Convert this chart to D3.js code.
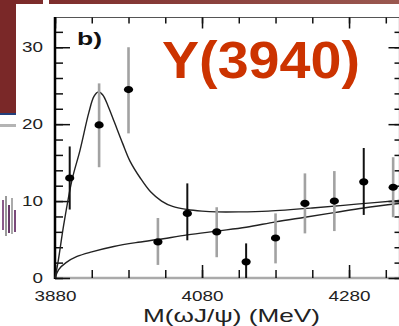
<!DOCTYPE html>
<html>
<head>
<meta charset="utf-8">
<script src="https://d3js.org/d3.v7.min.js"></script>
<style>
 body { margin: 0; background: #fff; }
 svg { display: block; }
</style>
</head>
<body>
<svg width="399" height="326"></svg>
<script>
 // data
 var mass    = [3900, 3940, 3980, 4020, 4060, 4100, 4140, 4180, 4220, 4260, 4300, 4340];
 var events  = [13.0, 19.9, 24.5, 4.7, 8.4, 6.0, 2.1, 5.2, 9.7, 10.0, 12.5, 11.8];
 var errHigh = [17.1, 25.3, 30.0, 7.8, 12.3, 9.2, 4.5, 8.4, 13.6, 13.9, 16.9, 15.7];
 var errLow  = [8.9, 14.4, 18.8, 1.7, 4.9, 2.7, 0.0, 1.9, 5.8, 6.1, 8.2, 7.9];
 var darkBar = [true, false, false, false, true, false, true, false, false, false, true, false];

 // fit curve (signal + background)
 var fitMass  = [3880, 3884, 3892, 3903, 3914, 3926, 3933, 3939, 3945, 3952, 3961, 3972, 3982, 3996, 4010, 4025, 4040, 4060, 4080, 4100, 4130, 4170, 4230, 4290, 4350];
 var fitTotal = [0, 2.0, 7.0, 12.7, 16.6, 21.5, 23.6, 24.2, 23.8, 22.4, 20.2, 17.5, 15.2, 13.0, 11.2, 10.0, 9.3, 8.9, 8.7, 8.6, 8.6, 8.7, 9.1, 9.6, 10.1];
 // background curve
 var bgMass  = [3880, 3885, 3895, 3910, 3930, 3960, 3990, 4020, 4060, 4100, 4140, 4180, 4220, 4260, 4300, 4350];
 var bgValue = [0, 1.1, 2.0, 2.8, 3.4, 4.1, 4.6, 5.0, 5.6, 6.1, 6.6, 7.3, 7.9, 8.5, 9.1, 9.7];

 var xMajor = [3880, 4080, 4280];
 var xMinor = [3880, 3930, 3980, 4030, 4080, 4130, 4180, 4230, 4280, 4330];
 var yMajor = [0, 10, 20, 30];
 var yMinor = [0, 2, 4, 6, 8, 10, 12, 14, 16, 18, 20, 22, 24, 26, 28, 30, 32];

 var svg = d3.select("svg");

 // slide background bits
 var grad = svg.append("defs").append("linearGradient").attr("id", "band");
 grad.append("stop").attr("offset", "0%").attr("stop-color", "#7a2828");
 grad.append("stop").attr("offset", "100%").attr("stop-color", "#9a5850");
 svg.append("rect").attr("x", 0).attr("y", 0).attr("width", 399).attr("height", 4).attr("fill", "url(#band)");
 svg.append("rect").attr("x", 0).attr("y", 0).attr("width", 16).attr("height", 113).attr("fill", "#7a2828");
 svg.append("rect").attr("x", 43).attr("y", 0).attr("width", 6).attr("height", 4).attr("fill", "#fff");
 svg.append("rect").attr("x", 0).attr("y", 113).attr("width", 16).attr("height", 2).attr("fill", "#23407c");
 svg.append("rect").attr("x", 0).attr("y", 124).attr("width", 16).attr("height", 3).attr("fill", "#b4b4b4");
 var noise = [["#8a5a8a", 2, 200, 30], ["#999", 5, 196, 40], ["#6a3a6a", 8, 205, 28], ["#aaa", 11, 198, 36], ["#7a4a7a", 14, 210, 22]];
 noise.forEach(function (d) {
     svg.append("rect").attr("x", d[1]).attr("y", d[2]).attr("width", 2).attr("height", d[3]).attr("fill", d[0]);
 });

 var x = d3.scaleLinear().domain([3880, 4350]).range([55, 400.5]);
 var y = d3.scaleLinear().domain([0, 33.8]).range([278, 18]);

 // frame
 svg.append("path").attr("d", "M 55 17.5 L 400 17.5").attr("stroke", "#555").attr("stroke-width", 1.2);
 svg.append("path").attr("d", "M 55 278 L 400 278").attr("stroke", "#aaa").attr("stroke-width", 2.5);
 svg.append("path").attr("d", "M 399.5 17 L 399.5 278").attr("stroke", "#555").attr("stroke-width", 1.2);

 function clean(g) {
     g.select(".domain").remove();
     g.selectAll("line").attr("stroke", "#111").attr("stroke-width", 1.5);
 }

 // ticks
 svg.append("g").attr("transform", "translate(0,278)")
    .call(d3.axisBottom(x).tickValues(xMinor).tickSize(-8).tickFormat(""))
    .call(clean);
 svg.append("g").attr("transform", "translate(0,278)")
    .call(d3.axisBottom(x).tickValues(xMajor).tickSize(-13).tickPadding(13).tickFormat(d3.format("d")))
    .call(clean)
    .selectAll("text")
    .attr("font-family", "Liberation Sans, Arial, sans-serif").attr("font-size", "14px").attr("fill", "#222")
    .attr("textLength", 42).attr("lengthAdjust", "spacingAndGlyphs");
 svg.append("g").attr("transform", "translate(0,17.5)")
    .call(d3.axisTop(x).tickValues(xMinor).tickSize(-6).tickFormat(""))
    .call(clean);
 svg.append("g").attr("transform", "translate(0,17.5)")
    .call(d3.axisTop(x).tickValues(xMajor).tickSize(-11).tickFormat(""))
    .call(clean);

 svg.append("g").attr("transform", "translate(55,0)")
    .call(d3.axisLeft(y).tickValues(yMinor).tickSize(-8).tickFormat(""))
    .call(clean);
 svg.append("g").attr("transform", "translate(55,0)")
    .call(d3.axisLeft(y).tickValues(yMajor).tickSize(-15).tickPadding(12))
    .call(clean)
    .selectAll("text")
    .attr("font-family", "Liberation Sans, Arial, sans-serif").attr("font-size", "14px").attr("fill", "#222")
    .attr("textLength", function (d) { return String(d).length * 10.5; })
    .attr("lengthAdjust", "spacingAndGlyphs");
 svg.append("g").attr("transform", "translate(399.5,0)")
    .call(d3.axisRight(y).tickValues(yMinor).tickSize(-5).tickFormat(""))
    .call(clean);
 svg.append("g").attr("transform", "translate(399.5,0)")
    .call(d3.axisRight(y).tickValues(yMajor).tickSize(-11).tickFormat(""))
    .call(clean);

 // left axis line
 svg.append("path").attr("d", "M 55 17 L 55 279").attr("stroke", "#000").attr("stroke-width", 2.5);

 // curves
 var line = d3.line()
              .x(function (d) { return x(d[0]); })
              .y(function (d) { return y(d[1]); })
              .curve(d3.curveCatmullRom.alpha(0.5));
 svg.append("path").attr("d", line(d3.zip(bgMass, bgValue)))
    .attr("fill", "none").attr("stroke", "#222").attr("stroke-width", 1.4);
 svg.append("path").attr("d", line(d3.zip(fitMass, fitTotal)))
    .attr("fill", "none").attr("stroke", "#222").attr("stroke-width", 1.4);

 // error bars and points
 var pts = mass.map(function (m, i) {
     return { m: m, v: events[i], hi: errHigh[i], lo: errLow[i], dark: darkBar[i] };
 });
 var g = svg.append("g");
 g.selectAll("line.err")
    .data(pts)
    .enter()
    .append("line")
    .attr("class", "err")
    .attr("x1", function (d) { return x(d.m); })
    .attr("x2", function (d) { return x(d.m); })
    .attr("y1", function (d) { return y(d.hi); })
    .attr("y2", function (d) { return y(d.lo); })
    .attr("stroke", function (d) { return d.dark ? "#111" : "#a2a2a2"; })
    .attr("stroke-width", function (d) { return d.dark ? 2 : 2.6; });
 g.selectAll("ellipse")
    .data(pts)
    .enter()
    .append("ellipse")
    .attr("cx", function (d) { return x(d.m); })
    .attr("cy", function (d) { return y(d.v); })
    .attr("rx", 4.6)
    .attr("ry", 3.6)
    .attr("fill", "#000");

 // labels
 svg.append("text").attr("x", 77).attr("y", 45).text("b)")
    .attr("font-family", "Liberation Sans, Arial, sans-serif").attr("font-weight", "bold")
    .attr("font-size", "19px").attr("fill", "#111")
    .attr("textLength", 25).attr("lengthAdjust", "spacingAndGlyphs");
 svg.append("text").attr("x", 162).attr("y", 78).text("Y(3940)")
    .attr("font-family", "Liberation Sans, Arial, sans-serif").attr("font-weight", "bold")
    .attr("font-size", "51px").attr("fill", "#cc3300")
    .attr("textLength", 198).attr("lengthAdjust", "spacingAndGlyphs");
 svg.append("text").attr("x", 143).attr("y", 322).text("M(\u03c9J/\u03c8) (MeV)")
    .attr("font-family", "Liberation Sans, Arial, sans-serif")
    .attr("font-size", "18.5px").attr("fill", "#222")
    .attr("textLength", 177).attr("lengthAdjust", "spacingAndGlyphs");
</script>
</body>
</html>
